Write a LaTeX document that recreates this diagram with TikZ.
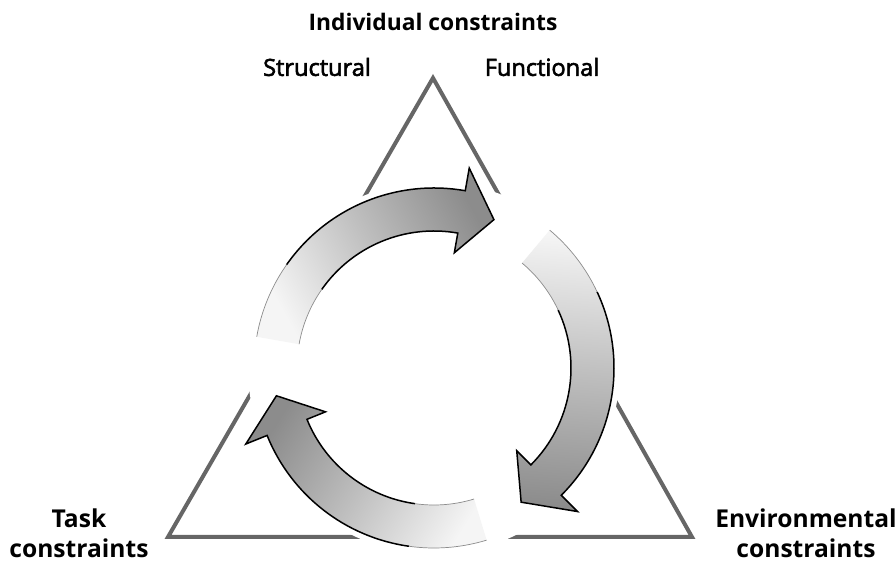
\documentclass[tikz,border=0pt]{standalone}
\usepackage{fontspec}
\setmainfont{Open Sans}
\newfontfamily\semibf{Open Sans}[FakeBold=2.5]
\usetikzlibrary{calc}

\begin{document}
\begin{tikzpicture}[x=0.5pt,y=0.5pt,
  tri/.style={draw=black!60,line width=2pt,line join=miter},
  toplbl/.style={font=\bfseries\fontsize{11.4}{14}\selectfont,inner sep=0pt},
  lbl/.style={font=\semibf\fontsize{11.8}{13}\selectfont,inner sep=0pt},
  corner/.style={font=\bfseries\fontsize{12.3}{15}\selectfont,align=center,inner sep=0pt},
  rim/.style={draw=black,line width=0.75pt,line join=miter},
  tailrim/.style={draw=black!45,line width=0.35pt}]
\useasboundingbox (0,0) rectangle (896,563);
% triangle of constraints
\coordinate (apex) at (433,485);
\coordinate (lft) at (168,26);
\coordinate (rgt) at (692,26);
\coordinate (ctr) at (434,195);
\draw[tri] (apex) -- (lft) -- (rgt) -- cycle;
\fill[white] (ctr) circle[radius=186];
% the three curved arrows (tail angle / head base / tip / shading)
\begin{scope}[shift={(ctr)}]
\foreach \ta/\hb/\tp/\sa in {170/80/68/-61,50/-45/-57/-184,287/202/190/58}{
  \pgfmathsetmacro{\tb}{\ta-25}
  \path[top color=black!45,bottom color=black!4,middle color=black!25,shading angle=\sa]
    (\ta:180) arc[start angle=\ta,end angle=\hb,radius=180]
    -- (\hb:203) -- (\tp:160) -- (\hb:117) -- (\hb:137)
    arc[start angle=\hb,end angle=\ta,radius=137] -- cycle;
  \draw[rim] (\tb:180) arc[start angle=\tb,end angle=\hb,radius=180]
    -- (\hb:203) -- (\tp:160) -- (\hb:117) -- (\hb:137)
    arc[start angle=\hb,end angle=\tb,radius=137];
  \draw[tailrim] (\ta:180) arc[start angle=\ta,end angle=\tb,radius=180];
  \draw[tailrim] (\ta:137) arc[start angle=\ta,end angle=\tb,radius=137];
}
\end{scope}
% labels
\node[toplbl] (ind) at (433,541) {Individual constraints};
\node[lbl] (struct) at (317,496) {Structural};
\node[lbl] (func) at (542,496) {Functional};
\node[corner] (task) at (79,30) {Task\\constraints};
\node[corner] (env) at (806,30) {Environmental\\constraints};
\end{tikzpicture}
\end{document}
